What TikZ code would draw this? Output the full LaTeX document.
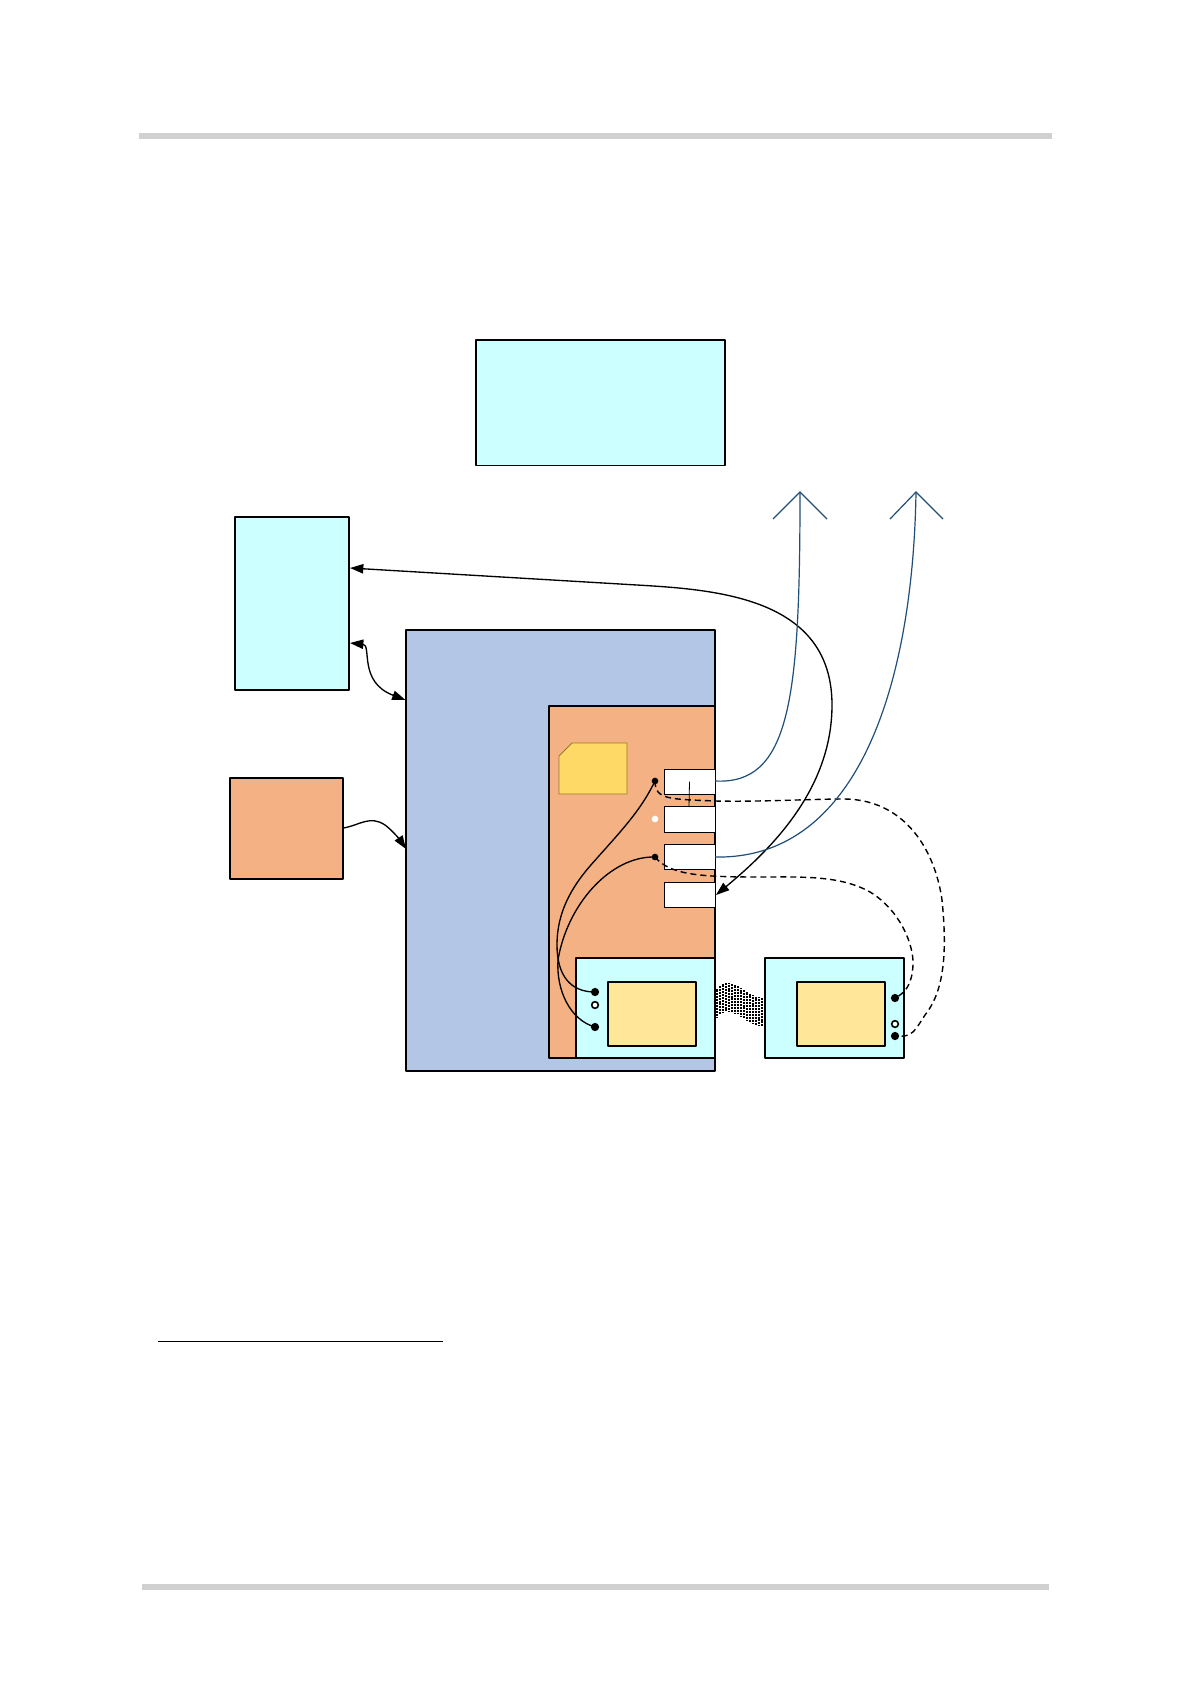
\documentclass[tikz,border=0pt]{standalone}
\usetikzlibrary{arrows.meta}
\definecolor{cy}{HTML}{CCFFFF}
\definecolor{org}{HTML}{F4B183}
\definecolor{blu}{HTML}{B4C6E6}
\definecolor{yel}{HTML}{FFE699}
\definecolor{sim}{HTML}{FFD966}
\definecolor{sime}{HTML}{9C7A2C}
\definecolor{ant}{HTML}{1F4E79}
\definecolor{bar}{HTML}{D0D0D0}
\tikzset{
 box/.style={draw=black,line width=1.3pt,line join=round},
 wbox/.style={fill=white,draw=black,line width=0.35pt,inner sep=0pt},
 dotb/.style={circle,fill=black,inner sep=0pt,minimum size=6.2pt},
 dots/.style={circle,fill=black,inner sep=0pt,minimum size=5pt},
 doto/.style={circle,fill=white,draw=black,line width=1.2pt,inner sep=0pt,minimum size=5pt},
 dotw/.style={circle,fill=white,inner sep=0pt,minimum size=5pt},
 wire/.style={black,line width=1pt},
 dwire/.style={black,line width=1.05pt,dash pattern=on 4.5pt off 3pt},
 antl/.style={ant,line width=0.9pt},
 tipb/.style={-{Triangle[length=10pt,width=7pt]}},
 tipbb/.style={{Triangle[length=10pt,width=7pt]}-{Triangle[length=10pt,width=7pt]}},
}
\begin{document}
\begin{tikzpicture}[x=0.75pt,y=-0.75pt]
\useasboundingbox[fill=white] (0,0) rectangle (1190,1684);
% header, footer, footnote rule
\fill[bar] (139,133) rectangle (1052,139);
\fill[bar] (142,1584) rectangle (1049,1590);
\draw[line width=0.6pt] (158,1341) -- (443,1341);
% boxes
\path[box,fill=cy] (476,340) rectangle (725,465.5);
\path[box,fill=cy] (235,517) rectangle (349,690);
\path[box,fill=org] (230,778) rectangle (343,879);
\path[box,fill=blu] (406,630) rectangle (715,1071);
\path[box,fill=org] (549,706) rectangle (715,1058);
\draw[sime,fill=sim,line width=0.6pt] (572,743) -- (627,743) -- (627,794) -- (559,794) -- (559,756) -- cycle;
\node[wbox,minimum width=38.25pt,minimum height=19pt] (w1) at (689.5,781.5) {};
\node[wbox,minimum width=38.25pt,minimum height=19.5pt] (w2) at (689.5,819) {};
\node[wbox,minimum width=38.25pt,minimum height=19pt] (w3) at (689.5,856.5) {};
\node[wbox,minimum width=38.25pt,minimum height=19pt] (w4) at (689.5,894.5) {};
\draw[black,line width=0.6pt] (w1.center) -- (689,807);
\path[box,fill=cy] (576,958) rectangle (715,1058);
\path[box,fill=yel] (608,982) rectangle (696,1046);
\path[box,fill=cy] (765,958) rectangle (904,1058);
\path[box,fill=yel] (797,982) rectangle (885,1046);
% ribbon
\foreach \xx [count=\n] in {717,720,...,765}{
  \pgfmathsetmacro{\ss}{max(0,min(1,(\xx-727)/36))}
  \pgfmathsetmacro{\yy}{\xx<727 ? 983+7*((727-\xx)/11)^2 : 983+15*(3*\ss*\ss-2*\ss*\ss*\ss)}
  \pgfmathsetmacro{\ph}{mod(\n,2)*1.1}
  \draw[black,line width=1.9pt,dash pattern=on 1.5pt off 0.7pt,dash phase=\ph pt] (\xx,\yy) -- (\xx,\yy+28);
}
% dots
\node[dots] (a) at (655,781) {};
\node[dotw] (b) at (655,819) {};
\node[dots] (c) at (655,857) {};
\node[dotb] (d) at (595,992) {};
\node[doto] (e) at (595,1005) {};
\node[dotb] (f) at (595,1027) {};
\node[dotb] (g) at (895,998) {};
\node[doto] (h) at (895,1024) {};
\node[dotb] (i) at (895,1036) {};
% wires on board
\draw[wire] (a.center) .. controls (640,812) and (620,832) .. (590,866) .. controls (565,895) and (557,920) .. (557,945) .. controls (557,975) and (570,992) .. (d.center);
\draw[wire] (c.center) .. controls (610,856) and (567,905) .. (558,960) .. controls (556,990) and (570,1020) .. (f.center);
% dashed
\draw[dwire] (a.center) .. controls (655,800) and (670,799) .. (715,801) .. controls (760,802) and (810,799) .. (845,799) .. controls (905,800) and (935,850) .. (942,900) .. controls (947,950) and (945,990) .. (925,1015) .. controls (915,1030) and (913,1038) .. (i.center);
\draw[dwire] (c.center) .. controls (670,875) and (700,877) .. (760,877) .. controls (800,877) and (840,875) .. (870,892) .. controls (900,910) and (914,945) .. (913,965) .. controls (912,985) and (905,993) .. (g.center);
% long curve
\coordinate (p1) at (350,568);
\coordinate (p2) at (716,895);
\draw[wire,tipbb] (p1) -- (620,584) .. controls (700,589) and (832,590) .. (832,705) .. controls (832,790) and (770,850) .. (p2);
% left arrows
\coordinate (q1) at (350,643);
\coordinate (q2) at (405.5,700);
\draw[wire,tipbb] (q1) .. controls (372,645) and (358,682) .. (q2);
\coordinate (r1) at (343.5,828);
\coordinate (r2) at (406,849);
\draw[wire,tipb] (r1) .. controls (360,825) and (370,815) .. (385,825) .. controls (392,830) and (400,840) .. (r2);
% antennas
\coordinate (t1) at (800,492);
\coordinate (t2) at (916,492);
\draw[antl] (773,519) -- (t1) -- (827,519);
\draw[antl] (890,519) -- (t2) -- (943,519);
\draw[antl] (715,781) .. controls (790,785) and (800,700) .. (t1);
\draw[antl] (715,857) .. controls (860,860) and (913,680) .. (t2);
\end{tikzpicture}
\end{document}
